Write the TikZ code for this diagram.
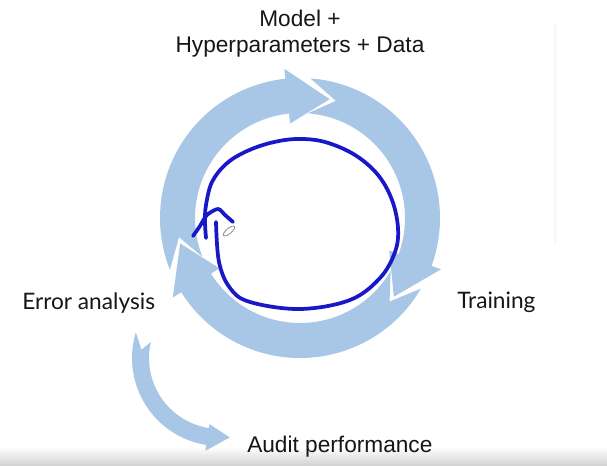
\documentclass[tikz,border=0pt]{standalone}
\usepackage{fontspec}
\setmainfont{Liberation Sans}
\newfontfamily\latof{Lato}
\usetikzlibrary{calc}
\definecolor{ringblue}{RGB}{168,198,230}
\definecolor{inkblue}{RGB}{24,24,200}
\definecolor{txt}{RGB}{22,22,22}

% one block arrow of the cycle, running clockwise
% #1 tail corner angle, #2 tail notch angle, #3 tip angle
\newcommand{\cyclearrow}[3]{%
  \fill[blockarrow] ($(c)+(#1:140)$) arc[start angle=#1, end angle=#3+20, radius=140]
    -- ($(c)+(#3+20:150)$) -- ($(c)+(#3:122.5)$) -- ($(c)+(#3+20:95)$)
    -- ($(c)+(#3+20:105)$) arc[start angle=#3+20, end angle=#1, radius=105]
    -- ($(c)+(#2:122.5)$) -- cycle;}

\begin{document}
\begin{tikzpicture}[x=0.75pt,y=0.75pt,
  blockarrow/.style={fill=ringblue},
  ink/.style={draw=inkblue, line width=2.8pt, line cap=round, line join=round},
  lbl/.style={inner sep=0pt, text=txt, font=\fontsize{17}{20}\selectfont},
  lbllato/.style={inner sep=0pt, text=txt, font=\latof\fontsize{17}{20}\selectfont}]
\useasboundingbox (0,0) rectangle (607,465);
\fill[white] (0,0) rectangle (607,465);
\shade[top color=white, bottom color=black!17] (0,0) rectangle (607,18);
\draw[black!3, line width=0.8pt] (555,222) -- (555,440);

% cycle of three block arrows
\coordinate (c) at (300,247);
\cyclearrow{201.7}{189}{76}
\cyclearrow{85.7}{73}{-40}
\cyclearrow{-30.3}{-43}{-168}

% branch arrow towards the audit
\coordinate (a) at (220,107);
\fill[blockarrow] ($(a)+(163:88)$) arc[start angle=163, end angle=261, radius=88]
  -- ($(a)+(261:94)$) -- ($(a)+(277:80)$) -- ($(a)+(261:67)$)
  -- ($(a)+(261:71)$) arc[start angle=261, end angle=167, radius=71]
  -- ($(a)+(174:79)$) -- cycle;

% labels
\node[lbl, anchor=base] (model) at (300,438) {Model +};
\node[lbl, anchor=base] (hyper) at (300,412) {Hyperparameters + Data};
\node[lbllato, anchor=base west] (err) at (22,156) {Error analysis};
\node[lbllato, anchor=base west] (train) at (457,157) {Training};
\node[lbl, anchor=base west] (audit) at (247,13) {Audit performance};

% freehand loop with its arrowhead
\draw[ink] plot[smooth, tension=0.6] coordinates {
  (216,243) (219,203) (230,177) (250,163) (300,156) (350,165) (380,187)
  (395,213) (398,237) (392,265) (378,290) (355,310) (325,323) (297,326)
  (270,322) (245,313) (226,301) (212,283) (206,260) (205,243) (206,227)};
\draw[ink] plot[smooth, tension=0.5] coordinates {
  (193,229) (200,239) (207,250) (218,256) (225,250) (233,243)};

% pen cursor
\draw[black!45, fill=white, line width=0.6pt, rotate around={40:(229,234)}]
  (229,234) ellipse [x radius=7, y radius=2.6];
\end{tikzpicture}
\end{document}
